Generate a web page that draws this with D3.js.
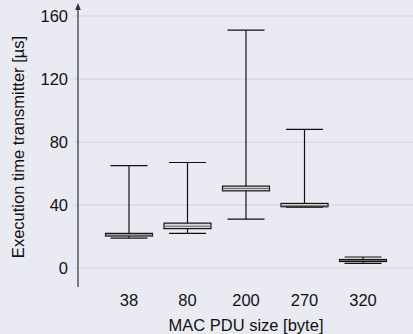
<!DOCTYPE html>
<html>
<head>
<meta charset="utf-8">
<script src="https://cdn.jsdelivr.net/npm/d3@7"></script>
<style>
    body { margin: 0; background: #eaeaf2; }
    text { font-family: "Liberation Sans", Arial, sans-serif; }
</style>
</head>
<body>
<script>
// box plot data (microseconds)
var sizes = ["38", "80", "200", "270", "320"];
var mins = [19, 22, 31, 38.7, 3];
var q1s = [20.3, 25, 49, 38.9, 4.2];
var medians = [21, 26.5, 50.5, 39.5, 4.8];
var q3s = [22, 28.5, 52, 41, 5.4];
var maxs = [65, 67, 151, 88, 7];
var yTicks = [0, 40, 80, 120, 160];

var width = 413, height = 334;
var margin = {top: 16, right: 0, bottom: 66, left: 78};
var fontSize = 16.5;

var svg = d3.select("body").append("svg")
    .attr("width", width)
    .attr("height", height);

svg.append("rect")
    .attr("width", width)
    .attr("height", height)
    .attr("fill", "#eaeaf2");

var y = d3.scaleLinear()
    .domain([0, 160])
    .range([height - margin.bottom, margin.top]);

var x = d3.scalePoint()
    .domain(sizes)
    .range([129, 363]);

// grid lines
svg.append("g")
    .selectAll("line")
    .data(yTicks)
    .enter().append("line")
    .attr("x1", margin.left - 4)
    .attr("x2", width)
    .attr("y1", function(d) { return y(d); })
    .attr("y2", function(d) { return y(d); })
    .attr("stroke", "#cfcfd6")
    .attr("stroke-width", 1.2);

// y tick labels
svg.append("g")
    .selectAll("text")
    .data(yTicks)
    .enter().append("text")
    .attr("x", margin.left - 10)
    .attr("y", function(d) { return y(d); })
    .attr("dy", "0.35em")
    .attr("text-anchor", "end")
    .attr("font-size", fontSize)
    .attr("fill", "#111")
    .text(function(d) { return d; });

// y axis line with arrow
svg.append("defs").append("marker")
    .attr("id", "arrow")
    .attr("viewBox", "0 0 10 10")
    .attr("refX", 5).attr("refY", 5)
    .attr("markerWidth", 6).attr("markerHeight", 6)
    .attr("orient", "auto")
    .append("path")
    .attr("d", "M0,1 L10,5 L0,9 Z")
    .attr("fill", "#333");

svg.append("line")
    .attr("x1", margin.left).attr("x2", margin.left)
    .attr("y1", y(-12)).attr("y2", y(166))
    .attr("stroke", "#333")
    .attr("stroke-width", 1.2)
    .attr("marker-end", "url(#arrow)");

// x tick labels
svg.append("g")
    .selectAll("text")
    .data(sizes)
    .enter().append("text")
    .attr("x", function(d) { return x(d); })
    .attr("y", 306)
    .attr("text-anchor", "middle")
    .attr("font-size", fontSize)
    .attr("fill", "#111")
    .text(function(d) { return d; });

// axis titles
svg.append("text")
    .attr("x", 246)
    .attr("y", 331)
    .attr("text-anchor", "middle")
    .attr("font-size", fontSize)
    .attr("fill", "#111")
    .text("MAC PDU size [byte]");

svg.append("text")
    .attr("transform", "translate(24," + 147 + ") rotate(-90)")
    .attr("text-anchor", "middle")
    .attr("font-size", fontSize)
    .attr("fill", "#111")
    .text("Execution time transmitter [\u00b5s]");

// boxes
var boxW = 47, capW = 37;
var boxes = svg.append("g")
    .selectAll("g")
    .data(sizes)
    .enter().append("g");

boxes.append("line")
    .attr("x1", function(d) { return x(d); })
    .attr("x2", function(d) { return x(d); })
    .attr("y1", function(d, i) { return y(mins[i]); })
    .attr("y2", function(d, i) { return y(maxs[i]); })
    .attr("stroke", "#111")
    .attr("stroke-width", 1.2);

boxes.append("line")
    .attr("x1", function(d) { return x(d) - capW / 2; })
    .attr("x2", function(d) { return x(d) + capW / 2; })
    .attr("y1", function(d, i) { return y(maxs[i]); })
    .attr("y2", function(d, i) { return y(maxs[i]); })
    .attr("stroke", "#111")
    .attr("stroke-width", 1.2);

boxes.append("line")
    .attr("x1", function(d) { return x(d) - capW / 2; })
    .attr("x2", function(d) { return x(d) + capW / 2; })
    .attr("y1", function(d, i) { return y(mins[i]); })
    .attr("y2", function(d, i) { return y(mins[i]); })
    .attr("stroke", "#111")
    .attr("stroke-width", 1.2);

boxes.append("rect")
    .attr("x", function(d) { return x(d) - boxW / 2; })
    .attr("width", boxW)
    .attr("y", function(d, i) { return y(q3s[i]); })
    .attr("height", function(d, i) { return Math.max(y(q1s[i]) - y(q3s[i]), 2); })
    .attr("fill", "#d8d8dc")
    .attr("stroke", "#111")
    .attr("stroke-width", 1.2);

boxes.append("line")
    .attr("x1", function(d) { return x(d) - boxW / 2; })
    .attr("x2", function(d) { return x(d) + boxW / 2; })
    .attr("y1", function(d, i) { return y(medians[i]); })
    .attr("y2", function(d, i) { return y(medians[i]); })
    .attr("stroke", "#666")
    .attr("stroke-width", 1);
</script>
</body>
</html>
